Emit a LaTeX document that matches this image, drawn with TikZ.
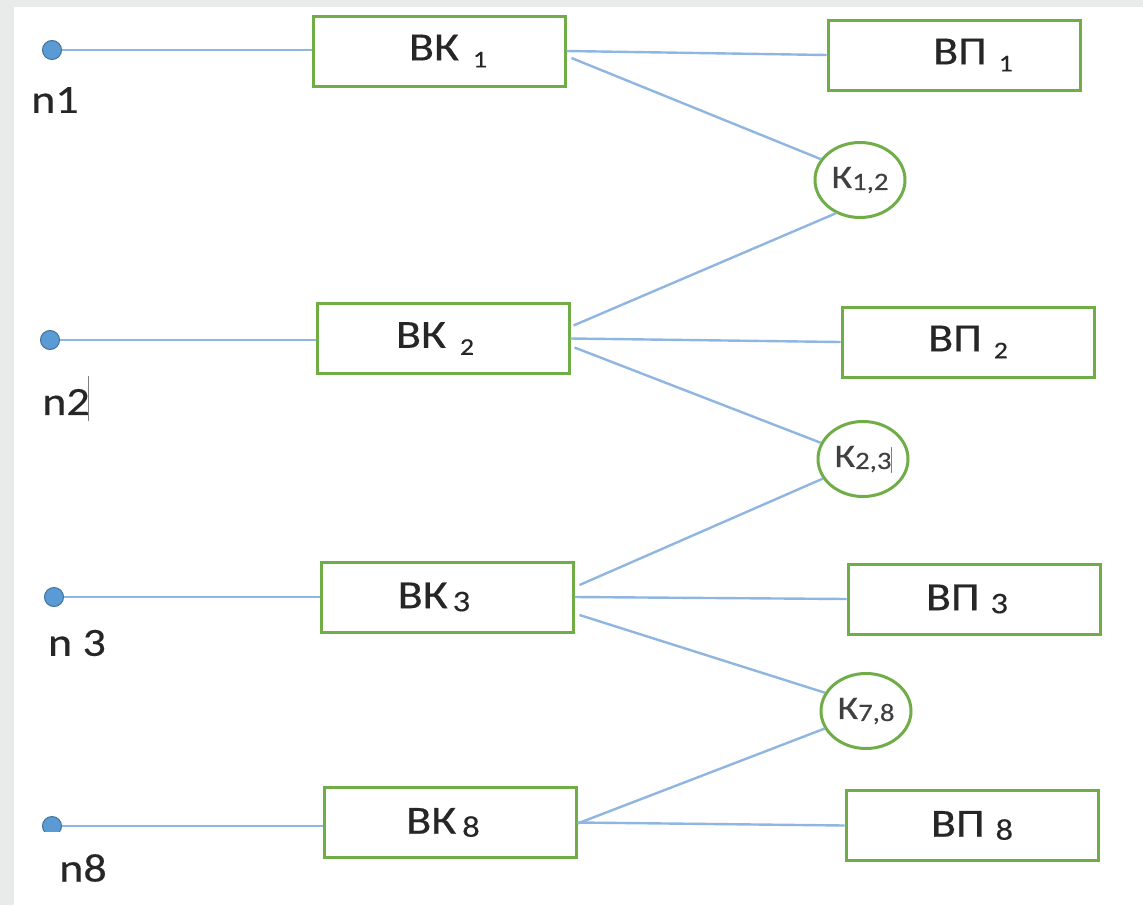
\documentclass[tikz,border=0pt]{standalone}
\usepackage{fontspec}
\setmainfont{Carlito}[FakeStretch=1.15,FakeBold=0.35]
\usetikzlibrary{shapes.geometric,calc}
\definecolor{grn}{HTML}{70AD47}
\definecolor{blu}{HTML}{8FB6E0}
\definecolor{dotf}{HTML}{5B9BD5}
\definecolor{dotb}{HTML}{41719C}
\definecolor{bgc}{HTML}{E9EBEA}
\definecolor{txt}{HTML}{262626}
\definecolor{ktxt}{HTML}{404040}
\newcommand{\smsub}[1]{\raisebox{-7pt}{\fontsize{24}{26}\selectfont #1}}
\newcommand{\midsub}[1]{\raisebox{-3pt}{\fontsize{30}{32}\selectfont #1}}
\newcommand{\ksub}[1]{\raisebox{-2pt}{\fontsize{25}{27}\selectfont #1}}
\begin{document}
\begin{tikzpicture}[x=1pt,y=-1pt,
  box/.style={draw=grn,line width=3pt,minimum width=252pt,minimum height=70pt,inner sep=0pt,font=\fontsize{40}{46}\selectfont,text=txt},
  kel/.style={draw=grn,ellipse,line width=3pt,minimum width=90pt,minimum height=75pt,inner sep=0pt,font=\fontsize{33}{38}\selectfont,text=ktxt},
  wire/.style={draw=blu,line width=2.4pt},
  dot/.style={circle,fill=dotf,draw=dotb,line width=1pt,minimum size=19pt,inner sep=0pt},
  lbl/.style={font=\fontsize{40}{46}\selectfont,text=txt,inner sep=0pt},
  cursor/.style={draw=gray,line width=1pt}]
\useasboundingbox (0,0) rectangle (1143,905);
\fill[bgc] (0,0) rectangle (1143,905);
\fill[white] (14,7) rectangle (1143,905);

% boxes
\node[box] (bk1) at (439,51) {\hspace*{18pt}ВК\hspace{14pt}\smsub{1}};
\node[box] (vp1) at (954,55) {\hspace*{38pt}ВП\hspace{12pt}\smsub{1}};
\node[box] (bk2) at (443,338.5) {ВК\hspace{14pt}\smsub{2}\hspace*{16pt}};
\node[box] (vp2) at (968,342) {ВП\hspace{12pt}\smsub{2}};
\node[box] (bk3) at (447,597) {ВК\hspace{5pt}\midsub{3}\hspace*{26pt}};
\node[box] (vp3) at (974,599) {ВП\hspace{11pt}\midsub{3}\hspace*{14pt}};
\node[box] (bk8) at (450,822.5) {ВК\hspace{6pt}\midsub{8}\hspace*{14pt}};
\node[box] (vp8) at (972,825.5) {ВП\hspace{11pt}\midsub{8}};

% ellipses
\node[kel] (k12) at (860,180) {К\ksub{1,2}};
\node[kel] (k23) at (863,459) {К\ksub{2,3}};
\node[kel] (k78) at (866,711) {К\ksub{7,8}};

% dots
\node[dot] (d1) at (52,50) {};
\node[dot] (d2) at (50,340) {};
\node[dot] (d3) at (54,597) {};
\coordinate (d8c) at (52,826);
\begin{scope}
\clip (30,800) rectangle (80,831);
\node[dot] (d8) at (d8c) {};
\end{scope}

% labels
\node[lbl] (l1) at (55,100) {n1};
\node[lbl] (l2) at (66,402) {n2};
\node[lbl] (l3) at (77,643) {n 3};
\node[lbl] (l8) at (83,868) {n8};
\draw[cursor] (88,376) -- (88,421);
\draw[cursor] (891,447) -- (891,473);

% connectors
\draw[wire] (d1.east) -- (d1.east -| bk1.west);
\draw[wire] (d2.east) -- (d2.east -| bk2.west);
\draw[wire] (d3.east) -- (d3.east -| bk3.west);
\draw[wire] (d8.east) -- (d8c -| bk8.west);

\draw[wire] (bk1.east) -- (vp1.west);
\draw[wire] (bk2.east) -- (vp2.west);
\draw[wire] (bk3.east) -- (vp3.west);
\draw[wire] (bk8.east) -- (vp8.west);

\draw[wire] ([shift={(5,7)}]bk1.east) -- (k12.152);
\draw[wire] (k12.234) -- ([shift={(3,-13)}]bk2.east);
\draw[wire] ([shift={(4,9)}]bk2.east) -- (k23.159);
\draw[wire] (k23.206) -- ([shift={(5,-12)}]bk3.east);
\draw[wire] ([shift={(5,18)}]bk3.east) -- (k78.156);
\draw[wire] (k78.203) -- ([shift={(0,1)}]bk8.east);
\end{tikzpicture}
\end{document}
